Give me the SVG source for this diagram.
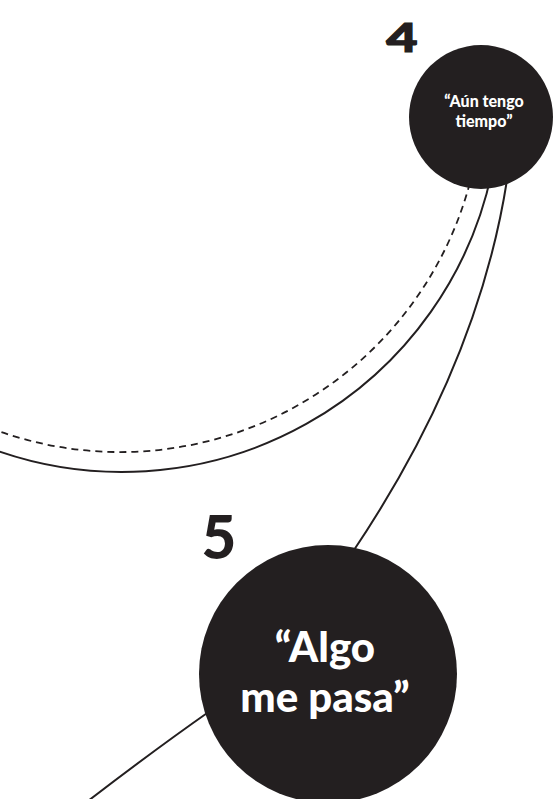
<svg xmlns="http://www.w3.org/2000/svg" width="558" height="799" viewBox="0 0 558 799">
<style>
.ln{fill:none;stroke:#231f20;stroke-width:2}
.dash{stroke-dasharray:7 5;stroke-width:1.8}
.node{fill:#231f20}
.lbl{font-family:Lato,"Open Sans","Liberation Sans",sans-serif;font-weight:900;fill:#ffffff;text-anchor:middle}
.num{font-family:Lato,"Open Sans","Liberation Sans",sans-serif;font-weight:900;fill:#231f20;text-anchor:middle}
</style>
<rect width="558" height="799" fill="#ffffff"/>
<g id="connectors">
<path class="ln dash" d="M 472.7 171.4 A 362 362 0 0 1 -5 429.8"/>
<path class="ln" d="M 491.7 172.6 A 378 378 0 0 1 -5 450"/>
<path class="ln" d="M 507 180 Q 478 366 352 553"/>
<path class="ln" d="M 210 711 Q 153 751 88 801"/>
</g>
<g id="node4">
<text class="num" transform="translate(402,52) scale(1.35,1)" x="0" y="0" font-size="40" stroke="#231f20" stroke-width="1.2">4</text>
<circle class="node" cx="481" cy="117" r="72"/>
<text class="lbl" x="484" y="107" font-size="16">“Aún tengo</text>
<text class="lbl" x="484" y="127" font-size="16">tiempo”</text>
</g>
<g id="node5">
<text class="num" x="219" y="559" font-size="60">5</text>
<circle class="node" cx="328" cy="674" r="129"/>
<text class="lbl" x="325" y="662" font-size="42">“Algo</text>
<text class="lbl" x="325" y="712" font-size="42">me pasa”</text>
</g>
</svg>
